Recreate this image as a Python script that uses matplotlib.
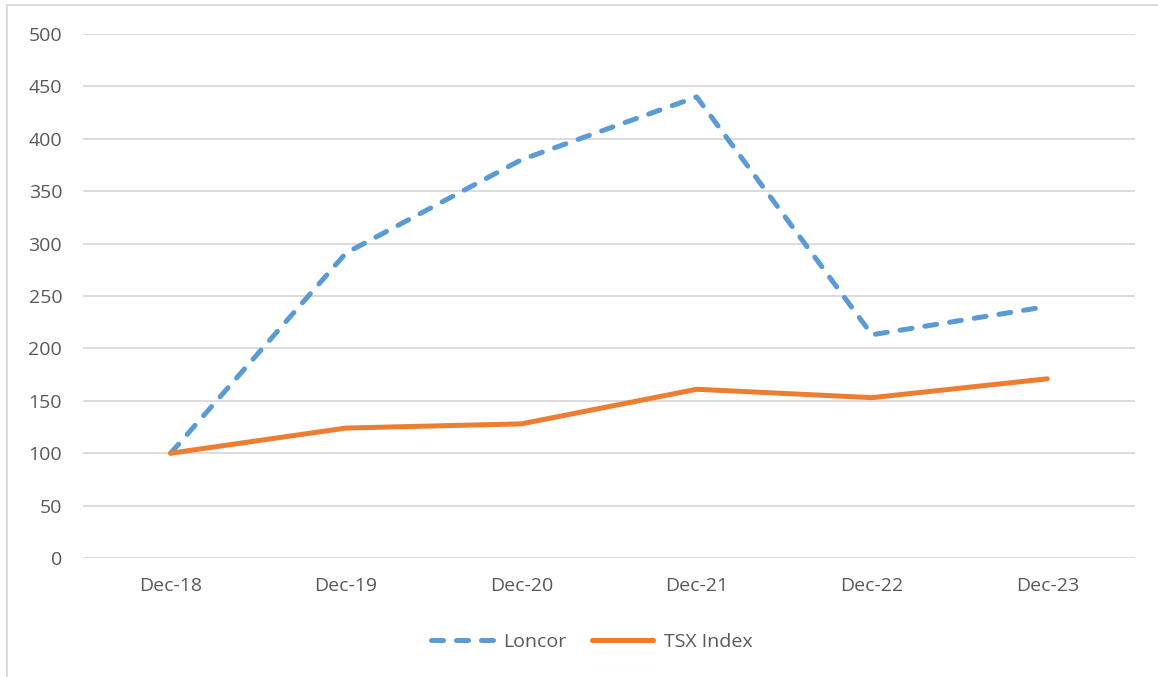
import matplotlib
matplotlib.use("Agg")
import matplotlib.pyplot as plt
from matplotlib.lines import Line2D

categories = ["Dec-18", "Dec-19", "Dec-20", "Dec-21", "Dec-22", "Dec-23"]
loncor = [100, 291, 380, 440, 213, 240]
tsx = [100, 124, 128, 161, 153, 171]
yticks = [0, 50, 100, 150, 200, 250, 300, 350, 400, 450, 500]

plt.rcParams['font.family'] = ['Open Sans', 'DejaVu Sans']
txt = '#595959'
fs = 14

fig = plt.figure(figsize=(11.58, 6.77), dpi=100)
ax = fig.add_axes([83/1158, 1-558/677, (1135-83)/1158, (558-34)/677])

x = list(range(len(categories)))
ax.plot(x, loncor, color='#5B9BD5', lw=3.6, dashes=(2.4, 2.6),
        dash_capstyle='round', solid_capstyle='round', label='Loncor', zorder=3)
ax.plot(x, tsx, color='#ED7D31', lw=3.6, solid_capstyle='round',
        label='TSX Index', zorder=4)

ax.set_xlim(-0.5, len(categories) - 0.5)
ax.set_ylim(0, 500)
ax.set_yticks(yticks)
ax.set_xticks(x)
ax.set_xticklabels(categories)
ax.grid(axis='y', color='#D9D9D9', lw=1.3)
ax.set_axisbelow(True)
for s in ax.spines.values():
    s.set_visible(False)
ax.tick_params(axis='both', length=0, labelsize=fs, colors=txt)
ax.tick_params(axis='y', pad=15)
ax.tick_params(axis='x', pad=14)

leg = fig.legend(handles=[
    Line2D([], [], color='#5B9BD5', lw=3.6, dashes=(2.4, 2.6), dash_capstyle='round'),
    Line2D([], [], color='#ED7D31', lw=3.6, solid_capstyle='round')],
    labels=['Loncor', 'TSX Index'], loc='center', bbox_to_anchor=(592/1158, 1-642/677),
    ncol=2, frameon=False, fontsize=fs, handlelength=3.15, columnspacing=1.3,
    handletextpad=0.55)
for t in leg.get_texts():
    t.set_color(txt)

# chart frame (left and top edges)
fig.add_artist(Line2D([7/1158, 7/1158], [0, 1-5/677], color='#D9D9D9', lw=1.3))
fig.add_artist(Line2D([7/1158, 1], [1-5/677, 1-5/677], color='#D9D9D9', lw=1.3))

fig.savefig('out.png', dpi=100)
